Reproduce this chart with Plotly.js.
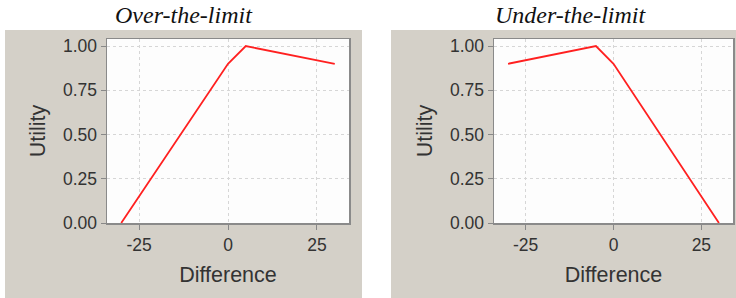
<!DOCTYPE html>
<html><head><meta charset="utf-8">
<script src="https://cdn.plot.ly/plotly-3.0.1.min.js"></script>
<style>html,body{margin:0;padding:0;background:#fff}#c{width:736px;height:298px}</style>
</head><body><div id="c"></div>
<script>
// Data
const overDiff = [-30, 0, 5, 30];
const overUtil = [0, 0.9, 1.0, 0.9];
const underDiff = [-30, -5, 0, 30];
const underUtil = [0.9, 1.0, 0.9, 0];
const xTickVals = [-25, 0, 25];
const xTickText = ['-25', '0', '25'];
const yTickVals = [0, 0.25, 0.5, 0.75, 1.0];
const yTickText = ['0.00', '0.25', '0.50', '0.75', '1.00'];
const panelTitles = ['Over-the-limit', 'Under-the-limit'];

const W = 736, H = 298;
const px = v => v / W, py = v => 1 - v / H;
const tickFont = {family: 'Liberation Sans, Arial, sans-serif', size: 17.5, color: '#333'};
const titleFont = {family: 'Liberation Sans, Arial, sans-serif', size: 21.5, color: '#333'};

function xa(domain) {
  return {domain: domain, range: [-34, 34], tickvals: xTickVals, ticktext: xTickText,
    ticks: 'outside', ticklen: 5, tickcolor: '#888', tickfont: tickFont,
    showgrid: true, gridcolor: '#d6d6d6', griddash: '3px,3px', gridwidth: 1,
    showline: true, mirror: true, linecolor: '#8a8a8a', linewidth: 1.5, zeroline: false,
    title: {text: 'Difference', font: titleFont, standoff: 13}, fixedrange: true};
}
function ya(anchor) {
  return {domain: [py(223), py(39)], range: [0, 1.04], tickvals: yTickVals, ticktext: yTickText,
    ticks: 'outside', ticklen: 5, tickcolor: '#888', tickfont: tickFont, anchor: anchor,
    showgrid: true, gridcolor: '#d6d6d6', griddash: '3px,3px', gridwidth: 1,
    showline: true, mirror: true, linecolor: '#8a8a8a', linewidth: 1.5, zeroline: false,
    title: {text: 'Utility', font: titleFont, standoff: 11}, fixedrange: true};
}

const traces = [
  {x: overDiff, y: overUtil, xaxis: 'x', yaxis: 'y', mode: 'lines', line: {color: '#ff2020', width: 1.8}, hoverinfo: 'none'},
  {x: underDiff, y: underUtil, xaxis: 'x2', yaxis: 'y2', mode: 'lines', line: {color: '#ff2020', width: 1.8}, hoverinfo: 'none'}
];

const layout = {
  width: W, height: H, margin: {l: 0, r: 0, t: 0, b: 0},
  paper_bgcolor: '#ffffff', plot_bgcolor: 'rgba(0,0,0,0)', showlegend: false,
  xaxis: Object.assign(xa([px(107), px(349)]), {anchor: 'y'}),
  yaxis: ya('x'),
  xaxis2: Object.assign(xa([px(494), px(733)]), {anchor: 'y2'}),
  yaxis2: ya('x2'),
  shapes: [
    {type: 'rect', xref: 'paper', yref: 'paper', x0: px(5), x1: px(362), y0: 0, y1: py(30), fillcolor: '#d4d0c8', line: {width: 0}, layer: 'below'},
    {type: 'rect', xref: 'paper', yref: 'paper', x0: px(391), x1: 1, y0: 0, y1: py(30), fillcolor: '#d4d0c8', line: {width: 0}, layer: 'below'},
    {type: 'rect', xref: 'x domain', yref: 'y domain', x0: 0, x1: 1, y0: 0, y1: 1, fillcolor: '#fdfdfd', line: {width: 0}, layer: 'below'},
    {type: 'rect', xref: 'x2 domain', yref: 'y2 domain', x0: 0, x1: 1, y0: 0, y1: 1, fillcolor: '#fdfdfd', line: {width: 0}, layer: 'below'}
  ],
  annotations: [
    {text: panelTitles[0], xref: 'paper', yref: 'paper', x: px(184), y: py(15), xanchor: 'center', yanchor: 'middle', showarrow: false,
     font: {family: 'Liberation Serif, serif', size: 24, color: '#111', style: 'italic'}},
    {text: panelTitles[1], xref: 'paper', yref: 'paper', x: px(570), y: py(15), xanchor: 'center', yanchor: 'middle', showarrow: false,
     font: {family: 'Liberation Serif, serif', size: 24, color: '#111', style: 'italic'}}
  ]
};

Plotly.newPlot('c', traces, layout, {displayModeBar: false, staticPlot: true});
</script></body></html>
